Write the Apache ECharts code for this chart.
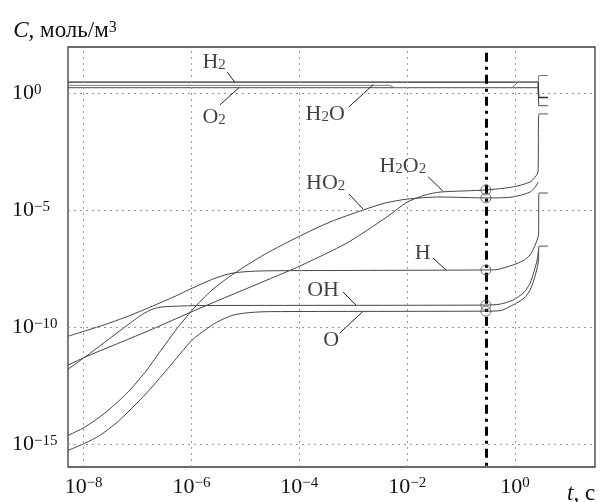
<!DOCTYPE html>
<html><head><meta charset="utf-8">
<script src="https://cdn.jsdelivr.net/npm/echarts@6/dist/echarts.min.js"></script>
<style>html,body{margin:0;padding:0;background:#fff}#c{width:605px;height:502px}</style>
</head><body><div id="c"></div>
<script>
// All values are log10: lgT = log10(t, s), lgC = log10(C, mol/m^3)
const xTicks = [-8, -6, -4, -2, 0];
const yTicks = [0, -5, -10, -15];

const tH2 = [-8.29, 0.43, 0.44, 0.61];
const cH2 = [0.47, 0.47, -0.19, -0.19];

const tO2 = [-8.29, 0.43, 0.44, 0.61];
const cO2 = [0.23, 0.23, -0.54, -0.54];

const tH2O = [-8.29, -2.32, -2.25, -0.05, 0.05, 0.43, 0.44, 0.61];
const cH2O = [0.33, 0.33, 0.24, 0.24, 0.46, 0.46, 0.75, 0.75];

const tH2O2 = [-8.29, -7.98, -6.77, -5.84, -4.60, -3.99, -3.12, -2.38, -2.00, -1.67, -1.39, -0.54, -0.04, 0.28, 0.39, 0.427, 0.445, 0.61];
const cH2O2 = [-11.63, -11.29, -10.13, -9.19, -7.99, -7.39, -6.41, -5.30, -4.66, -4.36, -4.23, -4.14, -4.01, -3.80, -3.54, -3.37, -0.89, -0.89];

const tHO2 = [-8.29, -7.98, -7.61, -7.20, -6.86, -6.59, -6.29, -5.99, -5.62, -5.23, -4.64, -3.99, -3.43, -2.82, -2.41, -2.00, -1.39, -0.54, -0.04, 0.28, 0.39, 0.43];
const cHO2 = [-14.63, -14.28, -13.68, -12.83, -11.93, -11.07, -10.13, -9.28, -8.42, -7.74, -6.89, -6.11, -5.51, -5.00, -4.70, -4.53, -4.44, -4.48, -4.44, -4.23, -3.97, -3.80];

const tH = [-8.29, -7.64, -7.17, -6.77, -6.30, -5.99, -5.56, -5.23, -4.82, -4.36, -0.54, -0.33, -0.04, 0.17, 0.28, 0.35, 0.41, 0.436, 0.445, 0.61];
const cH = [-10.39, -9.92, -9.53, -9.15, -8.68, -8.34, -7.91, -7.69, -7.61, -7.59, -7.56, -7.54, -7.35, -7.14, -6.92, -6.62, -6.28, -6.07, -4.27, -4.27];

const tOH = [-8.29, -7.98, -7.61, -7.24, -6.96, -6.77, -6.59, -6.31, -5.84, -0.54, -0.28, -0.04, 0.17, 0.28, 0.35, 0.41, 0.436];
const cOH = [-11.80, -11.29, -10.65, -10.01, -9.53, -9.28, -9.15, -9.11, -9.08, -9.06, -9.02, -8.85, -8.51, -8.12, -7.65, -7.14, -6.71];

const tO = [-8.29, -7.98, -7.70, -7.38, -7.05, -6.77, -6.40, -5.99, -5.75, -5.53, -5.23, -4.92, -4.55, -0.54, -0.28, -0.04, 0.17, 0.28, 0.35, 0.41, 0.436, 0.445, 0.61];
const cO = [-15.27, -14.97, -14.63, -14.07, -13.34, -12.66, -11.67, -10.56, -10.13, -9.79, -9.49, -9.38, -9.34, -9.32, -9.30, -9.06, -8.76, -8.42, -7.99, -7.48, -7.14, -6.54, -6.54];

// time of the marked moment (dash-dot line) and marked concentrations
const tMark = -0.54;
const cMark = [-4.14, -4.48, -7.56, -9.06, -9.32];

// curve labels: text, label position, pointer start, pointer end
const labNames = ['H2', 'O2', 'H2O', 'HO2', 'H2O2', 'H', 'OH', 'O'];
const labTexts = ['{n|H}{u|2}', '{n|O}{u|2}', '{n|H}{u|2}{n|O}', '{n|HO}{u|2}', '{n|H}{u|2}{n|O}{u|2}', '{n|H}', '{n|OH}', '{n|O}'];
const labPos = [[-5.58, 1.34], [-5.58, -1.02], [-3.52, -0.89], [-3.51, -3.84], [-2.08, -3.11], [-1.71, -6.84], [-3.56, -8.42], [-3.41, -10.56]];
const ptrFrom = [[-5.34, 0.91], [-5.47, -0.50], [-3.08, -0.59], [-3.08, -4.31], [-1.61, -3.58], [-1.52, -7.05], [-3.19, -8.50], [-3.25, -10.26]];
const ptrTo = [[-5.20, 0.48], [-5.12, 0.23], [-2.63, 0.36], [-2.82, -4.95], [-1.34, -4.18], [-1.28, -7.56], [-2.95, -9.06], [-2.82, -9.33]];

const X_MIN = -8.29, X_MAX = 1.484, Y_MIN = -15.98, Y_MAX = 1.97;

const zip = (a, b) => a.map((v, i) => [v, b[i]]);
const FONT = 'Liberation Serif';
const pow = v => '{b|10}{p|' + (v < 0 ? '\u2212' + (-v) : String(v)) + '}';
const powRich = {
  b: { fontFamily: FONT, fontSize: 22, color: '#111', lineHeight: 22 },
  p: { fontFamily: FONT, fontSize: 15, color: '#111', lineHeight: 7, verticalAlign: 'top' }
};
const labRich = {
  n: { fontFamily: FONT, fontSize: 22, color: '#111', lineHeight: 22 },
  u: { fontFamily: FONT, fontSize: 15, color: '#111', lineHeight: 8, verticalAlign: 'bottom' }
};

const curveStyle = { color: '#454545', width: 1 };
function curve(name, t, c, extra) {
  return Object.assign({
    name, type: 'line', data: zip(t, c), showSymbol: false, symbol: 'none',
    smooth: 0.25, lineStyle: Object.assign({}, curveStyle),
    z: 3, silent: true, animation: false
  }, extra || {});
}

const gridLines = [].concat(
  xTicks.map(v => ({ xAxis: v })),
  yTicks.map(v => ({ yAxis: v }))
);

const option = {
  backgroundColor: '#fff',
  animation: false,
  grid: { left: 68, right: 10, top: 47, bottom: 35, show: true, borderColor: '#3a3a3a', borderWidth: 1.3, containLabel: false, outerBoundsMode: 'none' },
  xAxis: {
    type: 'value', min: X_MIN, max: X_MAX,
    name: '{i|t}{r|, с}', nameLocation: 'end', nameGap: -28,
    nameTextStyle: { align: 'left', verticalAlign: 'top', padding: [15, 0, 0, 0],
      rich: { i: { fontFamily: FONT, fontStyle: 'italic', fontSize: 23, color: '#111' }, r: { fontFamily: FONT, fontSize: 23, color: '#111' } } },
    axisLine: { show: false, onZero: false }, axisTick: { show: false }, splitLine: { show: false },
    axisLabel: { customValues: xTicks, formatter: pow, rich: powRich, margin: 9, showMinLabel: true, showMaxLabel: true }
  },
  yAxis: {
    type: 'value', min: Y_MIN, max: Y_MAX,
    name: '{i|C}{r|, моль/м}{p|3}', nameLocation: 'end', nameGap: 16,
    nameTextStyle: { align: 'center', verticalAlign: 'middle', padding: [0, 6, 0, 0],
      rich: { i: { fontFamily: FONT, fontStyle: 'italic', fontSize: 23, color: '#111', lineHeight: 22 },
              r: { fontFamily: FONT, fontSize: 23, color: '#111', lineHeight: 22 },
              p: { fontFamily: FONT, fontSize: 16, color: '#111', lineHeight: 7, verticalAlign: 'top' } } },
    axisLine: { show: false, onZero: false }, axisTick: { show: false }, splitLine: { show: false },
    axisLabel: { customValues: yTicks, formatter: pow, rich: powRich, margin: 56, align: 'left' }
  },
  series: [
    {
      name: 'grid', type: 'line', data: [], z: 1, silent: true,
      markLine: { silent: true, symbol: ['none', 'none'], animation: false, label: { show: false },
        lineStyle: { color: '#999', width: 1, type: [2, 4] }, data: gridLines }
    },
    curve('H2', tH2, cH2, { smooth: false, lineStyle: { color: '#2e2e2e', width: 1.4 } }),
    curve('O2', tO2, cO2, { smooth: false }),
    curve('H2O', tH2O, cH2O, { smooth: false, lineStyle: { color: '#777', width: 1 } }),
    curve('H2O2', tH2O2, cH2O2),
    curve('HO2', tHO2, cHO2),
    curve('H', tH, cH),
    curve('OH', tOH, cOH),
    curve('O', tO, cO),
    {
      name: 'moment', type: 'line', data: [], z: 5, silent: true,
      markLine: { silent: true, symbol: ['none', 'none'], animation: false, label: { show: false },
        lineStyle: { color: '#000', width: 3, type: [9, 5, 3, 5] },
        data: [[{ coord: [tMark, 1.72] }, { coord: [tMark, Y_MIN] }]] }
    },
    {
      name: 'marks', type: 'scatter', data: cMark.map(c => [tMark, c]), symbol: 'circle', symbolSize: 10,
      itemStyle: { color: 'rgba(0,0,0,0)', borderColor: '#555', borderWidth: 1 }, z: 6, silent: true
    },
    {
      name: 'pointers', type: 'lines', coordinateSystem: 'cartesian2d', z: 4, silent: true,
      lineStyle: { color: '#222', width: 1, opacity: 1, curveness: 0 },
      data: ptrFrom.map((p, i) => ({ coords: [p, ptrTo[i]] }))
    },
    {
      name: 'labels', type: 'scatter', symbolSize: 1, itemStyle: { color: 'rgba(0,0,0,0)' }, z: 7, silent: true,
      data: labPos.map((p, i) => ({ name: labNames[i], value: p, label: { formatter: labTexts[i] } })),
      label: { show: true, position: 'inside', rich: labRich }
    }
  ]
};
const chart = echarts.init(document.getElementById('c'), null, { renderer: 'canvas' });
chart.setOption(option);
</script></body></html>
